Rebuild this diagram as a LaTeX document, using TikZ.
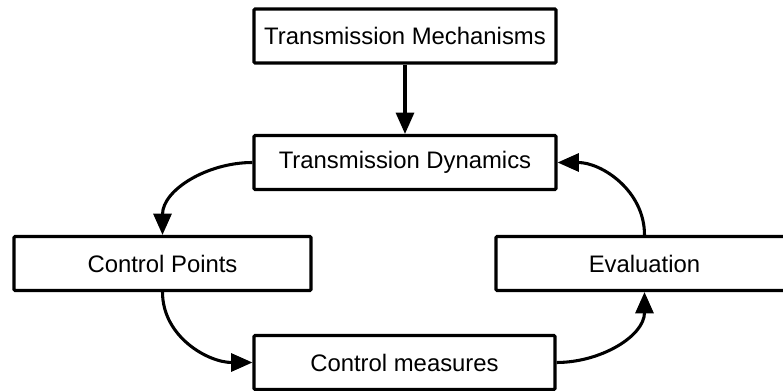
\documentclass[tikz,border=0pt]{standalone}
\usepackage{fontspec}
\setmainfont{Liberation Sans}
\usetikzlibrary{arrows.meta}
\begin{document}
\begin{tikzpicture}[x=0.75pt,y=0.75pt,yscale=-1,xscale=1,
        stage/.style={draw, line width=2.3pt, minimum height=40.5pt, inner sep=0pt, rounded corners=0.8pt, font=\fontsize{17.9}{21}\selectfont},
        flow/.style={line width=2.3pt, -{Triangle[length=16pt,width=13.5pt]}}]
        \useasboundingbox (0,0) rectangle (783,391);

        % Boxes
        \node [stage, minimum width=226.5pt] (mech) at (405,36) {Transmission Mechanisms};
        \node [stage, minimum width=226.5pt] (dyn) at (405,162.5) {Transmission Dynamics};
        \node [stage, minimum width=222.75pt] (cpts) at (162.5,263.5) {Control Points};
        \node [stage, minimum width=222.75pt] (eval) at (644.5,263.5) {Evaluation};
        \node [stage, minimum width=225.75pt] (meas) at (404.5,362.5) {Control measures};

        % Straight arrow
        \draw [flow] (mech) -- (dyn);
        % Loop arrows (y is flipped, so 90 points down)
        \draw [flow] (dyn.west) to[out=180,in=-90] (cpts.north);
        \draw [flow] (cpts.south) to[out=90,in=180] (meas.west);
        \draw [flow] (meas.east) to[out=0,in=90] (eval.south);
        \draw [flow] (eval.north) to[out=-90,in=0] (dyn.east);

    \end{tikzpicture}
\end{document}
